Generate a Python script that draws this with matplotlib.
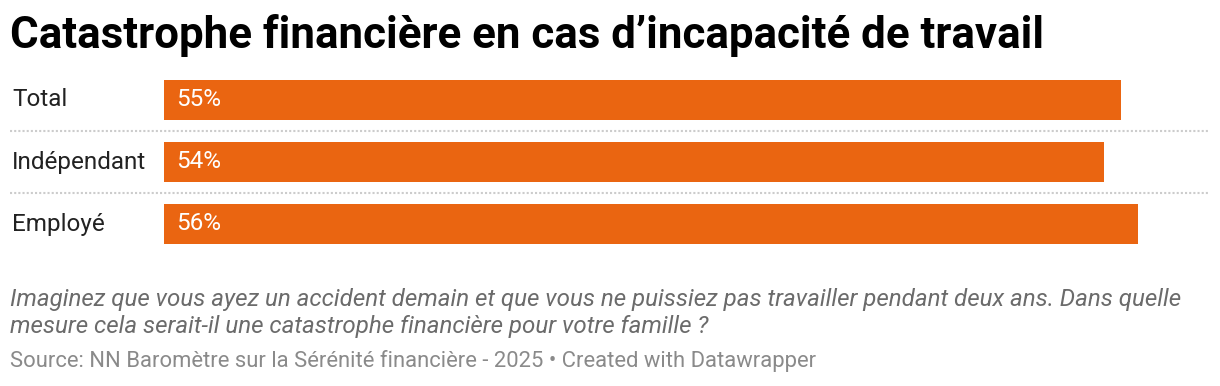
import matplotlib
matplotlib.use("Agg")
import matplotlib.pyplot as plt

categories = ["Total", "Indépendant", "Employé"]
values = [55, 54, 56]
value_labels = ["55%", "54%", "56%"]
title = "Catastrophe financière en cas d’incapacité de travail"
note = ("Imaginez que vous ayez un accident demain et que vous ne puissiez pas travailler pendant deux ans. Dans quelle\n"
        "mesure cela serait-il une catastrophe financière pour votre famille ?")
source = "Source: NN Baromètre sur la Sérénité financière - 2025 • Created with Datawrapper"

W, H = 1220, 386
DPI = 100
plt.rcParams['font.family'] = ['Roboto', 'DejaVu Sans']

fig = plt.figure(figsize=(W / DPI, H / DPI), dpi=DPI)
fig.patch.set_facecolor("white")

ax_left, ax_right = 164, 1208
ax_top, ax_bot = 69, 255
ax = fig.add_axes([ax_left / W, 1 - ax_bot / H, (ax_right - ax_left) / W, (ax_bot - ax_top) / H])
ax.set_xlim(0, 60)
ax.set_ylim(len(categories) - 0.5, -0.5)
ax.axis("off")

orange = "#ea6511"
ypos = list(range(len(categories)))
ax.barh(ypos, values, height=40 / 62, color=orange, linewidth=0)

lab_x = (12 - ax_left) / (ax_right - ax_left)
val_x = (176 - ax_left) / (ax_right - ax_left)
tr = ax.get_yaxis_transform()
for y, cat, vl in zip(ypos, categories, value_labels):
    ax.text(lab_x, y, cat, transform=tr, ha="left", va="center", fontsize=17.5, color="#222222")
    ax.text(val_x, y, vl, transform=tr, ha="left", va="center", fontsize=17.5, color="white")

sep_x0 = (10 - ax_left) / (ax_right - ax_left)
for y in [0.5, 1.5]:
    ax.plot([sep_x0, 1], [y, y], transform=tr, clip_on=False, color="#cccccc",
            linewidth=1.5, linestyle=(0, (1, 1)))

fig.text(10 / W, 1 - 48 / H, title, fontsize=31.6, fontweight="bold", color="#000000",
         ha="left", va="baseline")
fig.text(10 / W, 1 - 306 / H, note.split("\n")[0], fontsize=17.4, fontstyle="italic",
         color="#6b6b6b", ha="left", va="baseline")
fig.text(10 / W, 1 - 333 / H, note.split("\n")[1], fontsize=17.4, fontstyle="italic",
         color="#6b6b6b", ha="left", va="baseline")
fig.text(10 / W, 1 - 367 / H, source, fontsize=15.85, color="#8a8a8a", ha="left", va="baseline")

fig.savefig("out.png", dpi=DPI, facecolor="white")
